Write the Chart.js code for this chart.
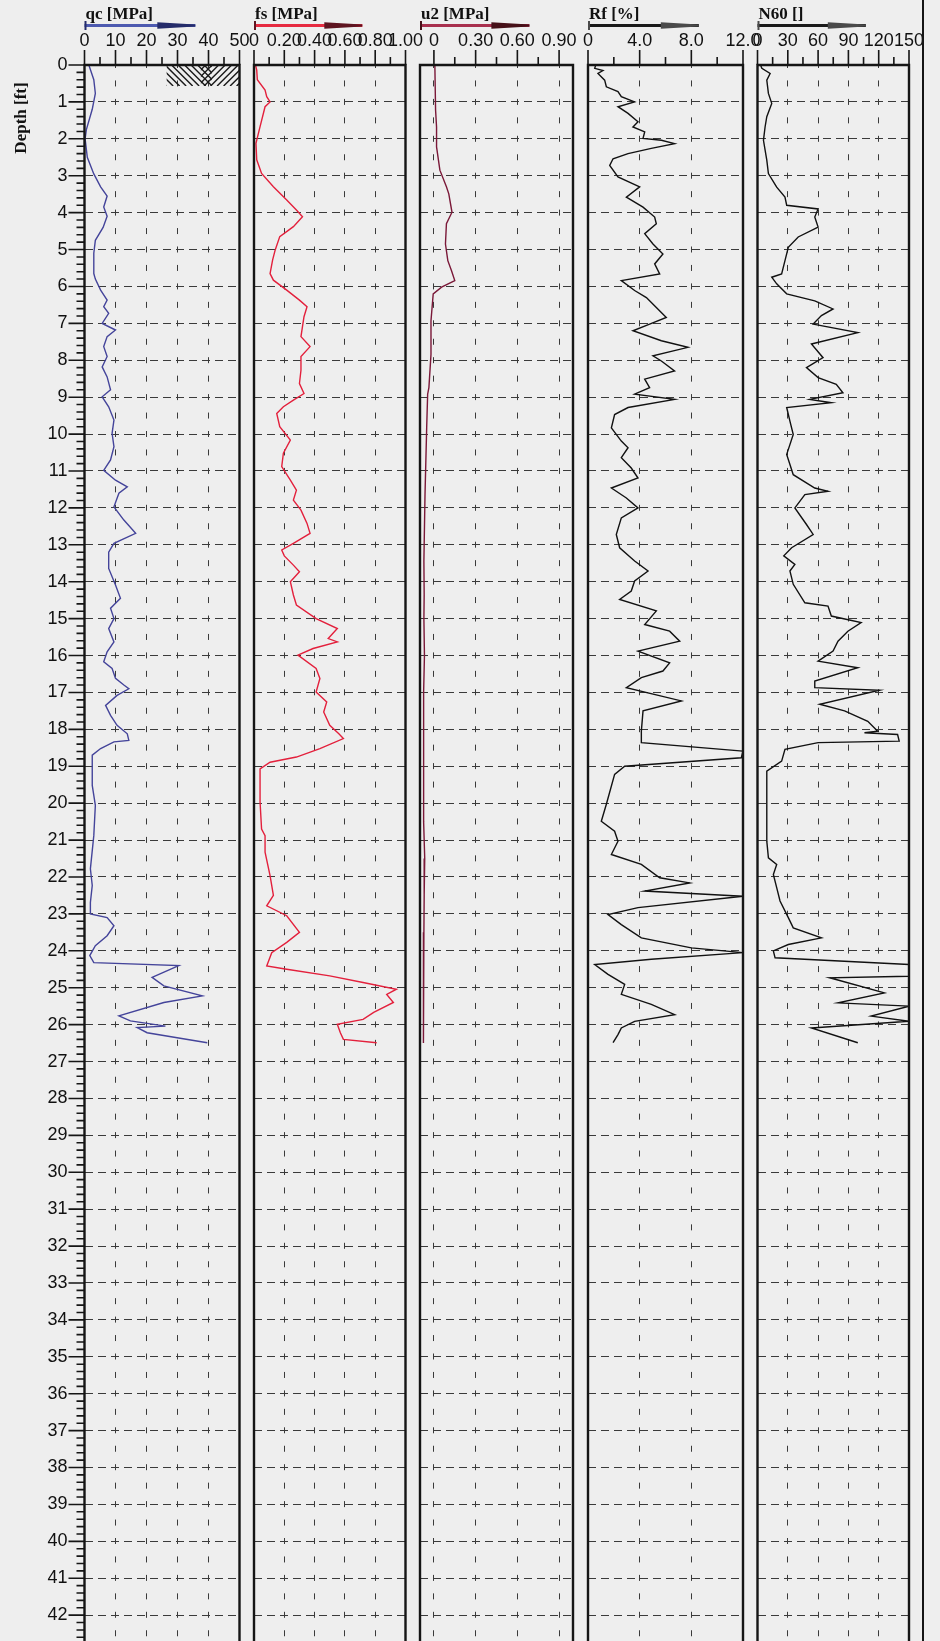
<!DOCTYPE html>
<html>
<head>
<meta charset="utf-8">
<title>CPT log</title>
<script src="https://cdn.jsdelivr.net/npm/chart.js@4.4.1/dist/chart.umd.min.js"></script>
<style>
  body { margin: 0; background: #eeeeee; }
  #wrap { position: relative; width: 940px; height: 1641px; overflow: hidden; }
  #wrap canvas { position: absolute; left: 0; top: 0; }
  #frame { position: absolute; left: 921.5px; top: 0; width: 2.5px; height: 1641px; background: #151515; }
</style>
</head>
<body>
<div id="wrap"><div id="frame"></div></div>
<script>
// Depth axis
const depthMax = 42.7;

// qc [MPa]
const qcDepth = [0, 0.4, 0.77, 1.2, 1.75, 2.0, 2.5, 2.95, 3.3, 3.55, 3.85, 4.1, 4.4, 4.75, 5.1, 5.65, 5.8, 6.1, 6.37, 6.55,
  6.73, 7.0, 7.18, 7.36, 7.63, 7.9, 8.18, 8.45, 8.8, 8.99, 9.26, 9.62, 9.98, 10.34, 10.7, 10.98, 11.25, 11.43, 11.6, 11.97,
  12.33, 12.69, 12.96, 13.2, 13.64, 14.09, 14.45, 14.72, 15.0, 15.27, 15.63, 15.9, 16.17, 16.35, 16.62, 16.8, 16.9, 17.08,
  17.35, 17.62, 17.89, 18.12, 18.3, 18.34, 18.52, 18.7, 19.52, 20.06, 20.88, 21.78, 22.23, 22.69, 23.0, 23.1, 23.32, 23.59,
  23.86, 24.13, 24.32, 24.4, 24.72, 24.95, 25.22, 25.4, 25.76, 25.9, 26.04, 26.08, 26.22, 26.49];
const qcValue = [1.4, 3.0, 3.5, 2.5, 0.6, 0.2, 0.9, 3.0, 5.2, 7.3, 6.2, 7.3, 6.0, 3.5, 3.0, 3.0, 3.5, 5.2, 7.3, 6.2,
  7.8, 5.7, 10.0, 7.3, 6.2, 7.3, 5.7, 7.3, 8.4, 5.7, 7.8, 9.5, 8.9, 9.5, 8.4, 6.2, 10.0, 13.8, 11.1, 9.5,
  12.7, 16.5, 9.5, 7.8, 7.8, 10.0, 11.6, 8.4, 9.5, 7.8, 9.5, 7.3, 6.2, 8.9, 10.0, 12.7, 14.3, 10.5,
  6.8, 8.4, 10.5, 13.8, 14.3, 9.5, 5.2, 2.5, 2.5, 3.5, 3.0, 1.9, 2.5, 1.9, 1.9, 7.3, 9.5, 7.3,
  3.5, 1.7, 3.0, 30.4, 21.8, 25.6, 38.0, 25.6, 11.1, 14.8, 26.1, 17.0, 20.2, 39.6];

// fs [MPa]
const fsDepth = [0, 0.14, 0.4, 0.68, 0.86, 1.0, 1.13, 1.67, 2.12, 2.57, 2.94, 3.3, 3.66, 3.93, 4.11, 4.38, 4.65, 5.01, 5.28,
  5.65, 5.83, 6.1, 6.37, 6.55, 6.82, 7.09, 7.36, 7.63, 7.9, 8.27, 8.63, 8.9, 9.08, 9.26, 9.44, 9.8, 10.16, 10.52, 10.88,
  11.25, 11.52, 11.79, 12.06, 12.42, 12.69, 12.96, 13.14, 13.3, 13.55, 13.73, 14.0, 14.36, 14.63, 15.0, 15.27, 15.54,
  15.63, 15.81, 15.99, 16.35, 16.62, 16.99, 17.26, 17.53, 17.89, 18.12, 18.25, 18.52, 18.75, 18.89, 19.07, 19.97, 20.7,
  20.88, 21.33, 21.96, 22.5, 22.78, 23.05, 23.5, 23.77, 24.05, 24.41, 24.5, 24.68, 24.86, 25.04, 25.18, 25.4, 25.67,
  25.86, 25.99, 26.22, 26.4, 26.49];
const fsValue = [0.01, 0.018, 0.022, 0.073, 0.084, 0.106, 0.073, 0.04, 0.013, 0.018, 0.05, 0.128, 0.216, 0.28, 0.32, 0.26,
  0.17, 0.14, 0.123, 0.106, 0.128, 0.216, 0.30, 0.35, 0.33, 0.32, 0.31, 0.37, 0.31, 0.31, 0.30, 0.33, 0.26, 0.194, 0.15,
  0.17, 0.24, 0.194, 0.183, 0.24, 0.28, 0.26, 0.31, 0.35, 0.37, 0.26, 0.183, 0.2, 0.26, 0.30, 0.24, 0.26, 0.28, 0.41,
  0.55, 0.49, 0.55, 0.39, 0.29, 0.41, 0.435, 0.41, 0.48, 0.46, 0.50, 0.56, 0.59, 0.435, 0.28, 0.106, 0.04, 0.04, 0.05,
  0.073, 0.073, 0.106, 0.128, 0.084, 0.216, 0.30, 0.216, 0.117, 0.084, 0.216, 0.50, 0.72, 0.94, 0.876, 0.92, 0.79,
  0.72, 0.55, 0.57, 0.59, 0.81];

// u2 [MPa]
const u2Depth = [0, 0.05, 1.22, 1.68, 2.22, 2.85, 3.3, 3.49, 3.99, 4.3, 4.85, 5.3, 5.57, 5.84, 6.02, 6.2, 6.93, 7.84, 8.74,
  8.92, 9.83, 11.64, 13.45, 14.35, 15.0, 16.0, 17.0, 18.0, 19.5, 20.5, 21.5, 22.5, 23.5, 24.5, 25.5, 26.5];
const u2Value = [0.005, 0.007, 0.012, 0.019, 0.019, 0.043, 0.09, 0.107, 0.13, 0.09, 0.083, 0.10, 0.126, 0.15, 0.055, -0.005,
  -0.021, -0.021, -0.036, -0.045, -0.052, -0.064, -0.072, -0.07, -0.072, -0.068, -0.074, -0.076, -0.074, -0.072, -0.066,
  -0.07, -0.072, -0.074, -0.076, -0.076];

// Rf [%]
const rfDepth = [0, 0.09, 0.15, 0.23, 0.41, 0.59, 0.72, 0.86, 1.0, 1.13, 1.31, 1.54, 1.68, 1.81, 1.99, 2.04, 2.13, 2.26, 2.4,
  2.54, 2.72, 3.03, 3.3, 3.58, 3.85, 4.12, 4.3, 4.57, 4.85, 5.12, 5.39, 5.66, 5.84, 6.11, 6.3, 6.57, 6.84, 7.02, 7.2, 7.47,
  7.65, 7.88, 8.02, 8.29, 8.51, 8.74, 8.92, 9.06, 9.28, 9.47, 9.83, 10.19, 10.37, 10.64, 10.92, 11.19, 11.46, 11.73, 12.0,
  12.27, 12.72, 13.08, 13.44, 13.71, 13.98, 14.25, 14.48, 14.79, 15.16, 15.34, 15.61, 15.88, 16.2, 16.42, 16.6, 16.87,
  17.23, 17.5, 18.05, 18.36, 18.59, 18.77, 19.0, 19.22, 20.03, 20.49, 20.76, 21.03, 21.39, 21.66, 22.02, 22.16, 22.38,
  22.52, 22.83, 23.02, 23.29, 23.65, 23.92, 24.05, 24.23, 24.37, 24.64, 24.91, 25.18, 25.45, 25.73, 25.91, 26.09, 26.27,
  26.49];
const rfValue = [0.6, 0.52, 1.16, 0.77, 1.29, 1.42, 2.32, 2.58, 3.6, 2.32, 3.1, 3.87, 3.48, 4.39, 4.26, 5.68, 6.7, 4.9, 3.1,
  1.94, 1.68, 2.32, 4.0, 2.97, 4.26, 5.16, 5.29, 4.39, 5.03, 5.8, 5.16, 5.55, 2.58, 3.61, 4.52, 5.29, 6.06, 4.77, 3.48, 5.68,
  7.74, 5.03, 5.68, 6.7, 4.39, 4.77, 3.61, 6.7, 3.1, 2.06, 1.81, 2.58, 3.1, 2.58, 3.35, 3.87, 1.81, 2.97, 3.87,
  2.58, 2.19, 2.45, 3.61, 4.65, 3.61, 3.35, 2.45, 5.29, 4.39, 6.32, 7.1, 3.87, 6.32, 5.8, 4.13, 2.97,
  7.23, 4.26, 4.13, 4.13, 12.0, 11.87, 2.84, 2.06, 1.42, 1.03, 2.06, 2.32, 1.81, 4.13, 5.55, 7.87, 4.39,
  12.0, 3.87, 1.55, 2.58, 4.13, 8.0, 12.0, 4.9, 0.52, 1.55, 2.84, 2.58, 4.9, 6.71, 3.61, 2.58, 2.32,
  1.94];

// N60 []
const n60Depth = [0, 0.09, 0.23, 0.41, 0.77, 1.04, 1.4, 1.68, 2.04, 2.58, 2.94, 3.31, 3.58, 3.8, 3.9, 4.12, 4.39, 4.66, 4.94,
  5.3, 5.66, 5.75, 5.93, 6.2, 6.39, 6.61, 6.79, 7.02, 7.25, 7.56, 7.93, 8.2, 8.47, 8.65, 8.88, 9.06, 9.15, 9.28, 9.65, 10.01,
  10.55, 11.1, 11.46, 11.55, 11.64, 12.0, 12.45, 12.72, 13.08, 13.3, 13.53, 13.71, 14.07, 14.57, 14.66, 14.93, 15.11, 15.34,
  15.61, 15.88, 16.15, 16.33, 16.69, 16.87, 16.94, 17.32, 17.5, 17.78, 18.05, 18.09, 18.14, 18.32, 18.36, 18.54, 18.86,
  19.13, 20.03, 21.03, 21.48, 21.66, 21.93, 22.29, 22.65, 23.1, 23.38, 23.65, 23.83, 24.0, 24.19, 24.37, 24.69, 24.73,
  25.14, 25.41, 25.5, 25.77, 25.91, 26.09, 26.49];
const n60Value = [3, 4.3, 12.5, 9.2, 10.8, 14.1, 9.2, 7.5, 5.9, 9.2, 10.8, 19.0, 27.2, 28.9, 60, 56.7, 60, 40.3, 30.5,
  27.2, 23.9, 14.1, 19.0, 28.9, 56.7, 74.8, 63.3, 55.1, 99.3, 53.4, 64.9, 48.5, 60.0, 78.0, 84.6, 51.8, 73.1, 28.9, 32.1, 35.4,
  28.9, 35.4, 56.7, 69.8, 46.9, 37.0, 48.5, 55.1, 33.8, 26.0, 37.0, 32.1, 35.4, 46.9, 69.8, 73.1, 102.6, 89.5,
  79.7, 74.8, 60.0, 99.3, 56.7, 56.7, 120.7, 61.6, 86.2, 109.2, 119.0, 105.9, 138.7, 140.3, 60.0, 27.2, 23.9,
  9.2, 9.2, 9.2, 10.8, 19.0, 15.7, 19.0, 22.3, 30.5, 35.4, 63.3, 30.5, 15.7, 17.4, 150, 150, 71.5,
  125.6, 79.7, 150, 112.5, 150, 53.4, 99.3];

// Soil hatch in the qc track (depth range, qc range)
const hatchDepth = [0, 0.57];
const hatchQc = [26.5, 50];

const panels = [
  { title: 'qc [MPa]', left: 84.5, right: 239.5, min: 0, max: 50, step: 10, depth: qcDepth, values: qcValue,
    color: '#44449a', arrow: '#4d5ab0', head: '#252c6a', fmt: v => String(v) },
  { title: 'fs [MPa]', left: 254, right: 405.5, min: 0, max: 1, step: 0.2, depth: fsDepth, values: fsValue,
    color: '#e3203c', arrow: '#e62a40', head: '#5e1420', fmt: v => v === 0 ? '0' : v.toFixed(2) },
  { title: 'u2 [MPa]', left: 420, right: 573, min: -0.1, max: 1.0, step: 0.3, depth: u2Depth, values: u2Value,
    color: '#7a1838', arrow: '#a8304e', head: '#461018', fmt: v => v === 0 ? '0' : v.toFixed(2), noBounds: true },
  { title: 'Rf [%]', left: 588, right: 743, min: 0, max: 12, step: 4, depth: rfDepth, values: rfValue,
    color: '#111111', arrow: '#1a1a1a', head: '#4a4a4a', fmt: v => v === 0 ? '0' : v.toFixed(1) },
  { title: 'N60 []', left: 757.5, right: 909, min: 0, max: 150, step: 30, depth: n60Depth, values: n60Value,
    color: '#111111', arrow: '#1a1a1a', head: '#4a4a4a', fmt: v => String(v) }
];

const gridColor = '#3a3a3a';
const tickFont = { family: '"Liberation Sans", Arial, sans-serif', size: 18 };

// Draw hatch pattern between two scale ranges
function drawHatch(chart) {
  const { ctx, scales: { x, y } } = chart;
  const x0 = x.getPixelForValue(hatchQc[0]);
  const x1 = x.getPixelForValue(hatchQc[1]);
  const y0 = y.getPixelForValue(hatchDepth[0]);
  const y1 = y.getPixelForValue(hatchDepth[1]);
  const w = x1 - x0, h = y1 - y0;
  ctx.save();
  ctx.strokeStyle = '#1a1a1a';
  ctx.lineWidth = 1.4;
  // back slashes on the left part
  ctx.save();
  ctx.beginPath();
  ctx.rect(x0, y0, w * 0.62, h);
  ctx.clip();
  ctx.beginPath();
  for (let s = x0 - h; s < x0 + w; s += 6.5) {
    ctx.moveTo(s, y0);
    ctx.lineTo(s + h, y1);
  }
  ctx.stroke();
  ctx.restore();
  // forward slashes on the right part
  ctx.save();
  ctx.beginPath();
  ctx.rect(x0 + w * 0.47, y0, w * 0.53, h);
  ctx.clip();
  ctx.beginPath();
  for (let s = x0; s < x1 + h; s += 6.5) {
    ctx.moveTo(s, y0);
    ctx.lineTo(s - h, y1);
  }
  ctx.stroke();
  ctx.restore();
  ctx.restore();
}

const panelDecor = {
  id: 'panelDecor',
  beforeDatasetsDraw(chart, args, opts) {
    if (opts.hatch) drawHatch(chart);
  },
  afterDraw(chart, args, opts) {
    const { ctx, chartArea: a, scales: { x, y } } = chart;
    ctx.save();

    // Panel frame: left, top, right
    ctx.strokeStyle = '#151515';
    ctx.lineWidth = 2.4;
    ctx.beginPath();
    ctx.moveTo(a.left, chart.height);
    ctx.lineTo(a.left, a.top);
    ctx.lineTo(a.right, a.top);
    ctx.lineTo(a.right, chart.height);
    ctx.stroke();

    // Top axis tick marks, major and minor
    ctx.lineWidth = 1.6;
    const half = opts.step / 2;
    const kFrom = Math.ceil(x.min / half - 1e-6);
    const kTo = Math.floor(x.max / half + 1e-6);
    ctx.beginPath();
    for (let k = kFrom; k <= kTo; k++) {
      const px = x.getPixelForValue(k * half);
      const len = k % 2 === 0 ? 15 : 8;
      ctx.moveTo(px, a.top);
      ctx.lineTo(px, a.top - len);
    }
    ctx.stroke();

    // Depth ticks on the first track
    if (opts.depthAxis) {
      ctx.beginPath();
      const n = Math.floor(y.max / 0.2 + 1e-6);
      for (let k = 0; k <= n; k++) {
        const py = y.getPixelForValue(k * 0.2);
        const len = k % 5 === 0 ? 16 : 8;
        ctx.moveTo(a.left - len, py);
        ctx.lineTo(a.left, py);
      }
      ctx.stroke();

      ctx.save();
      ctx.translate(22, 118);
      ctx.rotate(-Math.PI / 2);
      ctx.fillStyle = '#111';
      ctx.font = 'bold 17px "Liberation Serif", "Times New Roman", serif';
      ctx.textAlign = 'center';
      ctx.textBaseline = 'middle';
      ctx.fillText('Depth [ft]', 0, 0);
      ctx.restore();
    }

    // Track title and arrow legend
    ctx.fillStyle = '#111';
    ctx.font = 'bold 17px "Liberation Serif", "Times New Roman", serif';
    ctx.textAlign = 'left';
    ctx.textBaseline = 'alphabetic';
    ctx.fillText(opts.title, a.left + 1, 19);

    const ay = 25.5;
    const ax1 = a.left + (a.right - a.left) * 0.715;
    ctx.strokeStyle = opts.arrow;
    ctx.lineWidth = 3;
    ctx.beginPath();
    ctx.moveTo(a.left, ay);
    ctx.lineTo(ax1, ay);
    ctx.stroke();
    ctx.lineWidth = 2;
    ctx.strokeStyle = opts.head;
    ctx.beginPath();
    ctx.moveTo(a.left + 1, ay - 4.5);
    ctx.lineTo(a.left + 1, ay + 4.5);
    ctx.stroke();
    ctx.fillStyle = opts.head;
    ctx.beginPath();
    ctx.moveTo(ax1 - 38, ay - 3.2);
    ctx.lineTo(ax1, ay - 1);
    ctx.lineTo(ax1, ay + 1);
    ctx.lineTo(ax1 - 38, ay + 3.2);
    ctx.closePath();
    ctx.fill();

    ctx.restore();
  }
};

const wrap = document.getElementById('wrap');

panels.forEach((p, i) => {
  const canvas = document.createElement('canvas');
  canvas.width = 940;
  canvas.height = 1641;
  wrap.insertBefore(canvas, document.getElementById('frame'));

  const isEdge = v => v <= p.min + 1e-9 || v >= p.max - 1e-9;

  new Chart(canvas, {
    type: 'line',
    data: {
      datasets: [{
        data: p.depth.map((d, k) => ({ x: p.values[k], y: d })),
        borderColor: p.color,
        borderWidth: 1.4,
        pointRadius: 0,
        tension: 0,
        fill: false
      }]
    },
    options: {
      responsive: false,
      animation: false,
      devicePixelRatio: 1,
      layout: { padding: { left: i === 0 ? 0 : p.left, right: 940 - p.right, top: 0, bottom: 0 } },
      plugins: {
        legend: { display: false },
        tooltip: { enabled: false },
        panelDecor: {
          title: p.title, arrow: p.arrow, head: p.head, step: p.step,
          depthAxis: i === 0, hatch: i === 0
        }
      },
      scales: {
        x: {
          type: 'linear',
          position: 'top',
          min: p.min,
          max: p.max,
          ticks: {
            stepSize: p.step,
            includeBounds: !p.noBounds,
            autoSkip: false,
            maxRotation: 0,
            minRotation: 0,
            padding: 13,
            color: '#111',
            font: tickFont,
            callback: v => p.fmt(v)
          },
          grid: {
            drawTicks: false,
            lineWidth: 1,
            color: ctx => (ctx.tick && isEdge(ctx.tick.value)) ? 'rgba(0,0,0,0)' : gridColor
          },
          border: { display: false, dash: [6, 12.45], dashOffset: 3 },
          afterFit: s => { s.height = 65; s.paddingLeft = 0; s.paddingRight = 0; }
        },
        y: {
          type: 'linear',
          reverse: true,
          min: 0,
          max: depthMax,
          ticks: {
            display: i === 0,
            stepSize: 1,
            includeBounds: false,
            autoSkip: false,
            padding: 17,
            color: '#111',
            font: tickFont
          },
          grid: {
            drawTicks: false,
            lineWidth: 1,
            color: ctx => (ctx.tick && ctx.tick.value === 0) ? 'rgba(0,0,0,0)' : gridColor
          },
          border: { display: false, dash: [8, 5] },
          afterFit: s => { s.width = i === 0 ? p.left : 0; s.paddingTop = 0; s.paddingBottom = 0; }
        }
      }
    },
    plugins: [panelDecor]
  });
});
</script>
</body>
</html>
